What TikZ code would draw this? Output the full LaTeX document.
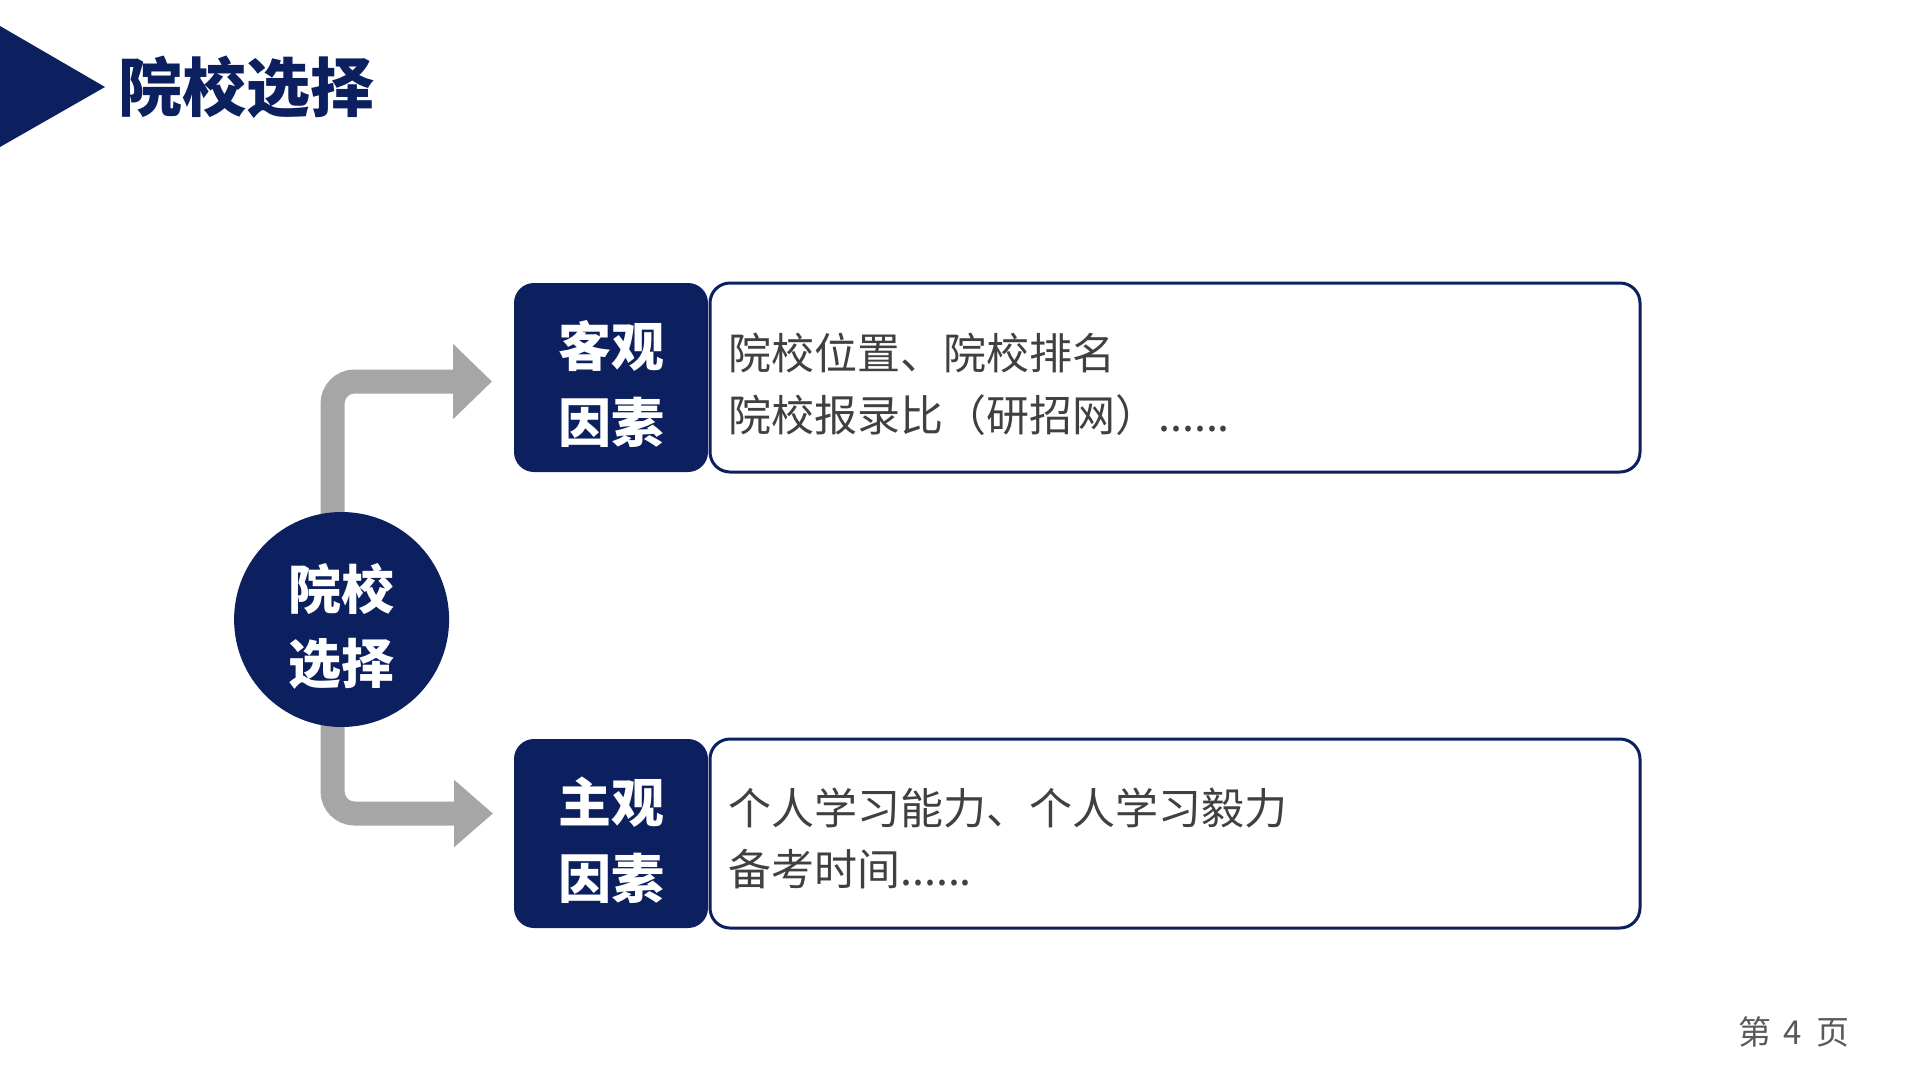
\documentclass[tikz,border=0pt]{standalone}
\usepackage{fontspec}
\setmainfont{Noto Sans CJK SC}
\usetikzlibrary{arrows.meta}
\definecolor{navy}{RGB}{12,32,96}
\definecolor{arrowgray}{RGB}{166,166,166}
\definecolor{txtgray}{RGB}{64,64,64}
\definecolor{pggray}{RGB}{89,89,89}
\begin{document}
\begin{tikzpicture}[x=1pt,y=-1pt,
  darkbox/.style={fill=navy, rounded corners=20pt, minimum width=194pt, minimum height=189pt, inner sep=0pt},
  whitebox/.style={draw=navy, line width=3pt, fill=white, rounded corners=20pt, minimum width=930pt, minimum height=189pt, inner sep=0pt},
  hub/.style={circle, fill=navy, minimum size=215pt, inner sep=0pt},
  shaft/.style={draw=arrowgray, line width=24pt, rounded corners=22pt},
  headtext/.style={font=\fontsize{53}{60}\selectfont\bfseries, text=white, inner sep=0pt, anchor=base},
  bodytext/.style={font=\fontsize{43}{50}\selectfont, text=txtgray, inner sep=0pt, anchor=base west},
]
\useasboundingbox (0,0) rectangle (1920,1080);
\fill[white] (0,0) rectangle (1920,1080);

% title
\fill[navy] (0,26) -- (105,87) -- (0,147) -- cycle;
\node[font=\fontsize{64}{70}\selectfont\bfseries, text=navy, inner sep=0pt, anchor=base west] (title) at (118,111.5) {院校选择};

% hub centre and arrow ends
\coordinate (c) at (341.6,619.5);
\coordinate (tip1) at (492,381.5);
\coordinate (tip2) at (493,813.5);

% connectors (drawn before the hub so they start behind it)
\draw[shaft, -{Triangle[length=39pt,width=73pt]}] ([xshift=-9pt]c) |- (tip1);
\draw[shaft, -{Triangle[length=39pt,width=65pt]}] ([xshift=-9pt]c) |- (tip2);

\node[hub] (hub) at (c) {};
\node[headtext] (ct1) at (341.6,609.5) {院校};
\node[headtext] (ct2) at (341.6,683) {选择};

% top factor
\node[whitebox] (w1) at (1175,377.5) {};
\node[darkbox] (d1) at (611,377.5) {};
\node[headtext] (d1a) at (611,366.6) {客观};
\node[headtext] (d1b) at (611,442.6) {因素};
\node[bodytext] (w1a) at (728,369.5) {院校位置、院校排名};
\node[bodytext] (w1b) at (728,431.5) {院校报录比（研招网）......};

% bottom factor
\node[whitebox] (w2) at (1175,833.5) {};
\node[darkbox] (d2) at (611,833.5) {};
\node[headtext] (d2a) at (611,822) {主观};
\node[headtext] (d2b) at (611,898) {因素};
\node[bodytext] (w2a) at (728,824.5) {个人学习能力、个人学习毅力};
\node[bodytext] (w2b) at (728,885.5) {备考时间......};

% page number
\node[font=\fontsize{33}{40}\selectfont, text=pggray, inner sep=0pt, anchor=base west] (pg) at (1738,1044.5) {第\hspace{12pt}4\hspace{15pt}页};
\end{tikzpicture}
\end{document}
